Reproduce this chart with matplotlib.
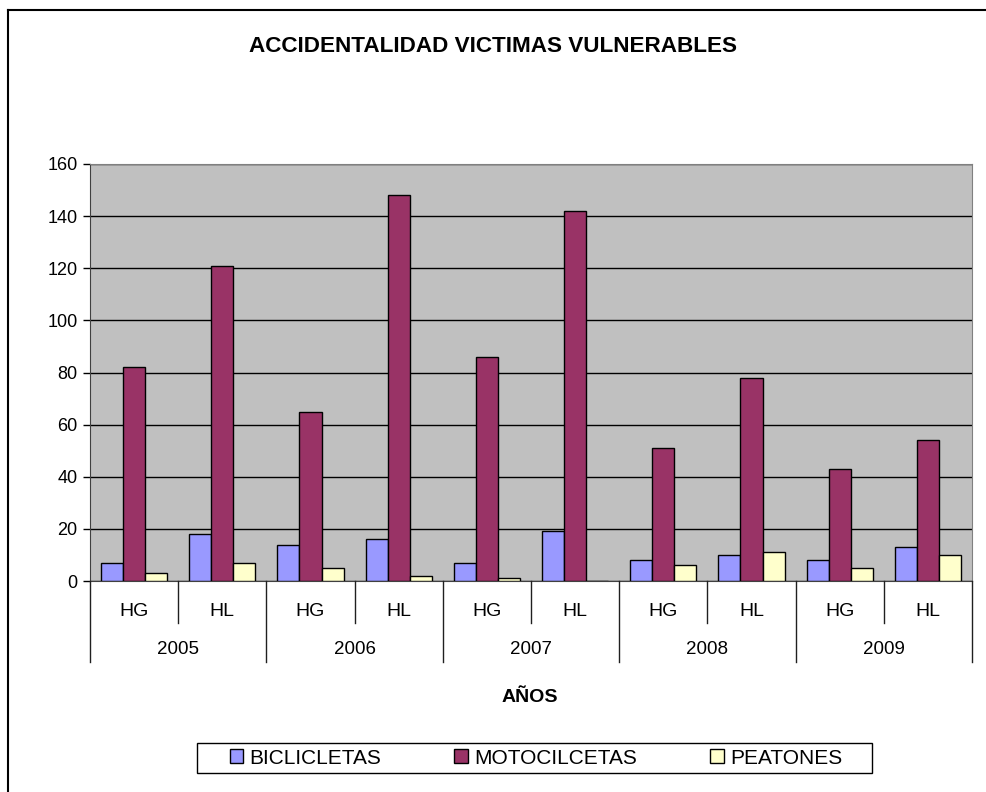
import matplotlib
matplotlib.use("Agg")
import matplotlib.pyplot as plt
import numpy as np
from matplotlib.lines import Line2D
from matplotlib.patches import Rectangle
from matplotlib.transforms import blended_transform_factory

plt.rcParams["font.family"] = ["Liberation Sans", "DejaVu Sans"]

years = ["2005", "2006", "2007", "2008", "2009"]
subgroups = ["HG", "HL"]
series_names = ["BICLICLETAS", "MOTOCILCETAS", "PEATONES"]
bicicletas = [7, 18, 14, 16, 7, 19, 8, 10, 8, 13]
motocicletas = [82, 121, 65, 148, 86, 142, 51, 78, 43, 54]
peatones = [3, 7, 5, 2, 1, 0, 6, 11, 5, 10]
colors = ["#9999FF", "#993366", "#FFFFCC"]

W, H = 987, 792
fig = plt.figure(figsize=(W / 100, H / 100), dpi=100)
fig.patch.set_facecolor("white")

# plot area in pixels: x 90..972, y 164..581
ax = fig.add_axes([90 / W, 1 - 581 / H, (972 - 90) / W, (581 - 164) / H])
ax.set_facecolor("#C0C0C0")

n = len(bicicletas)
x = np.arange(n)
bw = 0.25
for i, (vals, c) in enumerate(zip([bicicletas, motocicletas, peatones], colors)):
    ax.bar(x - 0.5 + bw * (i + 0.5) + 0.125, vals, width=bw, color=c,
           edgecolor="black", linewidth=1.0, label=series_names[i], zorder=3)

ax.set_xlim(-0.5, n - 0.5)
ax.set_ylim(0, 160)
ax.set_yticks(range(0, 161, 20))
ax.yaxis.grid(True, color="black", linewidth=1.0, zorder=0)
ax.set_axisbelow(True)
ax.tick_params(axis="y", length=5, width=1, direction="out", labelsize=13, pad=4)
ax.set_xticks([])
for s in ["top", "right"]:
    ax.spines[s].set_color("#808080")
ax.spines["left"].set_color("#404040")
ax.spines["bottom"].set_color("#404040")

# two-level category labels
tr = blended_transform_factory(ax.transData, fig.transFigure)
y0 = 1 - 581 / H
for i in range(n):
    ax.text(i, 1 - 611 / H, subgroups[i % 2], transform=tr, ha="center",
            va="center", fontsize=14)
for j, yr in enumerate(years):
    ax.text(2 * j + 0.5, 1 - 649 / H, yr, transform=tr, ha="center",
            va="center", fontsize=13.5)
for i in range(n + 1):
    xs = i - 0.5
    y1 = 1 - (662 if i % 2 == 0 else 623) / H
    fig.add_artist(Line2D([xs, xs], [y0, y1], transform=tr, color="#202020",
                          linewidth=1.0))

fig.text(493 / W, 1 - 46 / H, "ACCIDENTALIDAD VICTIMAS VULNERABLES",
         ha="center", va="center", fontsize=16.2, fontweight="bold")
fig.text(530 / W, 1 - 697 / H, "AÑOS", ha="center", va="center",
         fontsize=14, fontweight="bold")

# legend box drawn separately so its size matches the reference
fig.add_artist(Rectangle((197 / W, 1 - 773 / H), (872 - 197) / W, 30 / H,
                         transform=fig.transFigure, facecolor="white",
                         edgecolor="black", linewidth=1.0))
leg = fig.legend(loc="center", bbox_to_anchor=(536 / W, 1 - 758 / H), ncol=3,
                 frameon=False, fontsize=15,
                 handlelength=0.65, handleheight=0.65, handletextpad=0.3,
                 columnspacing=3.5, borderpad=0.2)

# outer chart border (left and top edges visible)
fig.add_artist(Line2D([8 / W, 8 / W], [0, 1 - 10 / H], transform=fig.transFigure,
                      color="black", linewidth=1.5))
fig.add_artist(Line2D([8 / W, 1], [1 - 10 / H, 1 - 10 / H], transform=fig.transFigure,
                      color="black", linewidth=1.5))

fig.savefig("out.png", dpi=100)
